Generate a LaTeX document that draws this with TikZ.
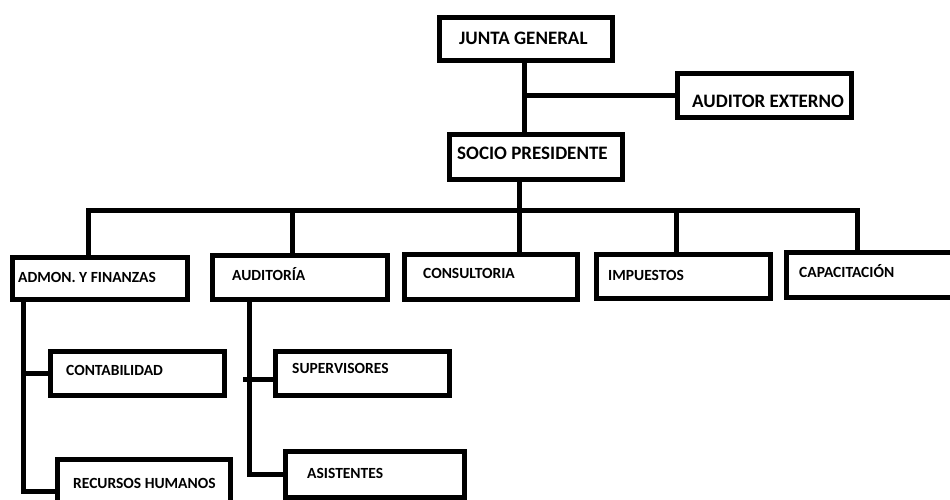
\documentclass[tikz,border=0pt]{standalone}
\usepackage{fontspec}
\setmainfont{Carlito}
\begin{document}
\begin{tikzpicture}[x=1pt,y=-1pt,
  obox/.style={draw=black, line width=5pt, rectangle, inner sep=0pt, fill=white},
  conn/.style={draw=black, line width=5pt, line cap=rect},
  bigtxt/.style={anchor=base west, inner sep=0pt, font=\fontsize{19}{21}\selectfont\bfseries},
  smalltxt/.style={anchor=base west, inner sep=0pt, font=\fontsize{15.5}{17}\selectfont\bfseries}]
\path[use as bounding box, clip] (0,0) rectangle (950,500);
\fill[white] (0,0) rectangle (950,500);
% coordinates for connector lines
\coordinate (xj) at (524,0);
\coordinate (xs) at (519,0);
\coordinate (xa) at (88,0);
\coordinate (xau) at (292,0);
\coordinate (xi) at (676,0);
\coordinate (xc) at (857,0);
\coordinate (xl) at (23,0);
\coordinate (xr) at (249,0);
\coordinate (xr2) at (245,0);
\coordinate (ybus) at (0,210);
\coordinate (yrh) at (0,491);
\coordinate (ysup) at (0,379);
% connectors
\draw[conn] (ybus -| xa) -- (ybus -| xc);
% boxes
\node[obox, minimum width=173pt, minimum height=43pt] (junta) at (526,39) {};
\node[obox, minimum width=174pt, minimum height=44pt] (auditor) at (764.5,95.5) {};
\node[obox, minimum width=173pt, minimum height=45pt] (socio) at (536,157) {};
\node[obox, minimum width=175pt, minimum height=42pt] (admon) at (100,278.5) {};
\node[obox, minimum width=175pt, minimum height=44pt] (auditoria) at (300,277.5) {};
\node[obox, minimum width=173pt, minimum height=45pt] (consultoria) at (491,277) {};
\node[obox, minimum width=174pt, minimum height=44pt] (impuestos) at (683.5,276.5) {};
\node[obox, minimum width=173.5pt, minimum height=45pt] (capacitacion) at (873.25,275) {};
\node[obox, minimum width=174pt, minimum height=44pt] (contabilidad) at (137.5,373.5) {};
\node[obox, minimum width=174pt, minimum height=44pt] (supervisores) at (362.5,373.5) {};
\node[obox, minimum width=173pt, minimum height=60.5pt] (rh) at (144,489.75) {};
\node[obox, minimum width=179pt, minimum height=46pt] (asistentes) at (375,474.5) {};
% connectors from boxes
\draw[conn] (junta.south -| xj) -- (socio.north -| xj);
\draw[conn] (auditor.west -| xj) -- (auditor.west);
\draw[conn] (socio.south -| xs) -- (ybus -| xs);
\draw[conn] (ybus -| xa) -- (admon.north -| xa);
\draw[conn] (ybus -| xau) -- (auditoria.north -| xau);
\draw[conn] (ybus -| xs) -- (consultoria.north -| xs);
\draw[conn] (ybus -| xi) -- (impuestos.north -| xi);
\draw[conn] (ybus -| xc) -- (capacitacion.north -| xc);
\draw[conn] (admon.south -| xl) |- (yrh -| rh.west);
\draw[conn] (contabilidad.west -| xl) -- (contabilidad.west);
\draw[conn] (auditoria.south -| xr) |- (asistentes.west);
\draw[conn] (ysup -| xr2) -- (ysup -| supervisores.west);
% labels
\node[bigtxt] (tjunta) at (459,45) {JUNTA GENERAL};
\node[bigtxt] (tauditor) at (692,108) {AUDITOR EXTERNO};
\node[bigtxt] (tsocio) at (457,160) {SOCIO PRESIDENTE};
\node[smalltxt] (tadmon) at (18,282) {ADMON. Y FINANZAS};
\node[smalltxt] (tauditoria) at (232,280) {AUDITORÍA};
\node[smalltxt] (tconsultoria) at (423,278) {CONSULTORIA};
\node[smalltxt] (timpuestos) at (608,280) {IMPUESTOS};
\node[smalltxt] (tcapacitacion) at (799,277) {CAPACITACIÓN};
\node[smalltxt] (tcontabilidad) at (66,375) {CONTABILIDAD};
\node[smalltxt] (tsupervisores) at (292,373) {SUPERVISORES};
\node[smalltxt] (trh) at (73,488) {RECURSOS HUMANOS};
\node[smalltxt] (tasistentes) at (307,478) {ASISTENTES};
\end{tikzpicture}
\end{document}
